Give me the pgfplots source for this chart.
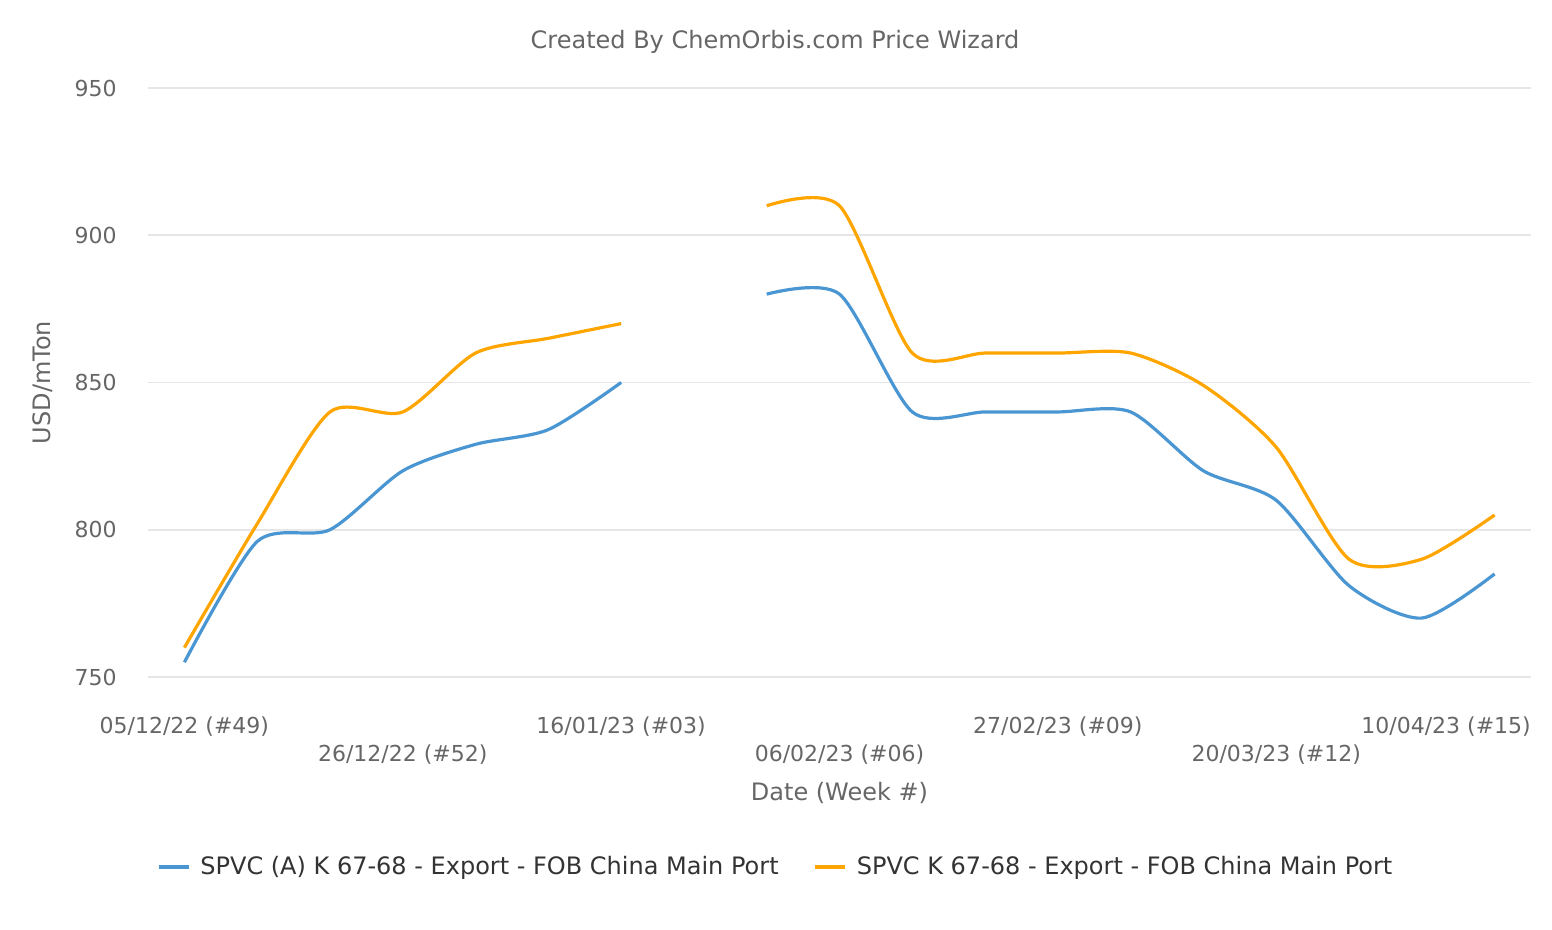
\documentclass[border=0pt]{standalone}
\usepackage{pgfplots}
\pgfplotsset{compat=1.18}
\usepackage{fontspec}
\setmainfont{DejaVu Sans}
\definecolor{spvcA}{HTML}{4A96D2}
\definecolor{spvc}{HTML}{FFA500}
\definecolor{lbl}{HTML}{666666}
\definecolor{leg}{HTML}{333333}
\definecolor{grd}{HTML}{E6E6E6}

\begin{document}
\begin{tikzpicture}
\path[use as bounding box] (-74pt,-126.5pt) rectangle (702pt,338.5pt);
\begin{axis}[
    scale only axis,
    width=691.5pt, height=294.5pt,
    xmin=-0.5, xmax=18.5, ymin=750, ymax=950,
    axis x line=bottom, axis y line=left,
    axis line style={draw=none,-},
    major tick length=0pt,
    ytick={750,800,850,900,950},
    ymajorgrids,
    grid style={draw=grd, line width=0.8pt},
    /pgf/number format/assume math mode=true,
    yticklabel style={anchor=east, inner sep=0pt, xshift=-15.5pt,
        font=\fontsize{11}{13}\selectfont, text=lbl},
    xtick={0,6,12,18},
    xticklabels={05/12/22 (\#49), 16/01/23 (\#03), 27/02/23 (\#09), \hspace*{-48.5pt}10/04/23 (\#15)},
    extra x ticks={3,9,15},
    extra x tick labels={26/12/22 (\#52), 06/02/23 (\#06), 20/03/23 (\#12)},
    extra x tick style={xticklabel style={yshift=-14pt}},
    xticklabel style={anchor=base, inner sep=0pt, yshift=-28.5pt,
        font=\fontsize{11}{13}\selectfont, text=lbl},
    title={Created By ChemOrbis.com Price Wizard},
    title style={at={(axis description cs:0.4534,1)}, anchor=base, yshift=13.6pt,
        inner sep=0pt, font=\fontsize{12}{14}\selectfont, text=lbl},
    xlabel={Date (Week \#)},
    xlabel style={at={(axis description cs:0.5,0)}, anchor=base, yshift=-62pt,
        inner sep=0pt, font=\fontsize{12}{14}\selectfont, text=lbl},
    ylabel={USD/mTon},
    ylabel style={at={([xshift=-48.6pt]axis description cs:0,0.5)}, anchor=base,
        inner sep=0pt, font=\fontsize{12}{14}\selectfont, text=lbl},
    unbounded coords=jump,
    legend columns=2,
    legend image code/.code={\draw[#1] (0pt,0pt) -- (15pt,0pt);},
    legend style={at={(0.4532,-0.3226)}, anchor=center, draw=none, fill=none,
        inner sep=0pt, font=\fontsize{12}{14}\selectfont,
        nodes={inner sep=0pt, text=leg},
        /tikz/every odd column/.append style={column sep=5pt},
        /tikz/every even column/.append style={column sep=17.5pt}},
]
\addplot[spvcA, line width=1.6pt, smooth, tension=0.45] coordinates {
    (0,755) (1,796) (2,800) (3,820) (4,829) (5,834) (6,850) (7,nan)
    (8,880) (9,880) (10,840) (11,840) (12,840) (13,840) (14,820)
    (15,810) (16,781) (17,770) (18,785)};
\addplot[spvc, line width=1.6pt, smooth, tension=0.45] coordinates {
    (0,760) (1,802) (2,840) (3,840) (4,860) (5,865) (6,870) (7,nan)
    (8,910) (9,910) (10,860) (11,860) (12,860) (13,860) (14,849)
    (15,828) (16,790) (17,790) (18,805)};
\legend{SPVC (A) K 67-68 - Export - FOB China Main Port, SPVC K 67-68 - Export - FOB China Main Port}
\end{axis}
\end{tikzpicture}
\end{document}
